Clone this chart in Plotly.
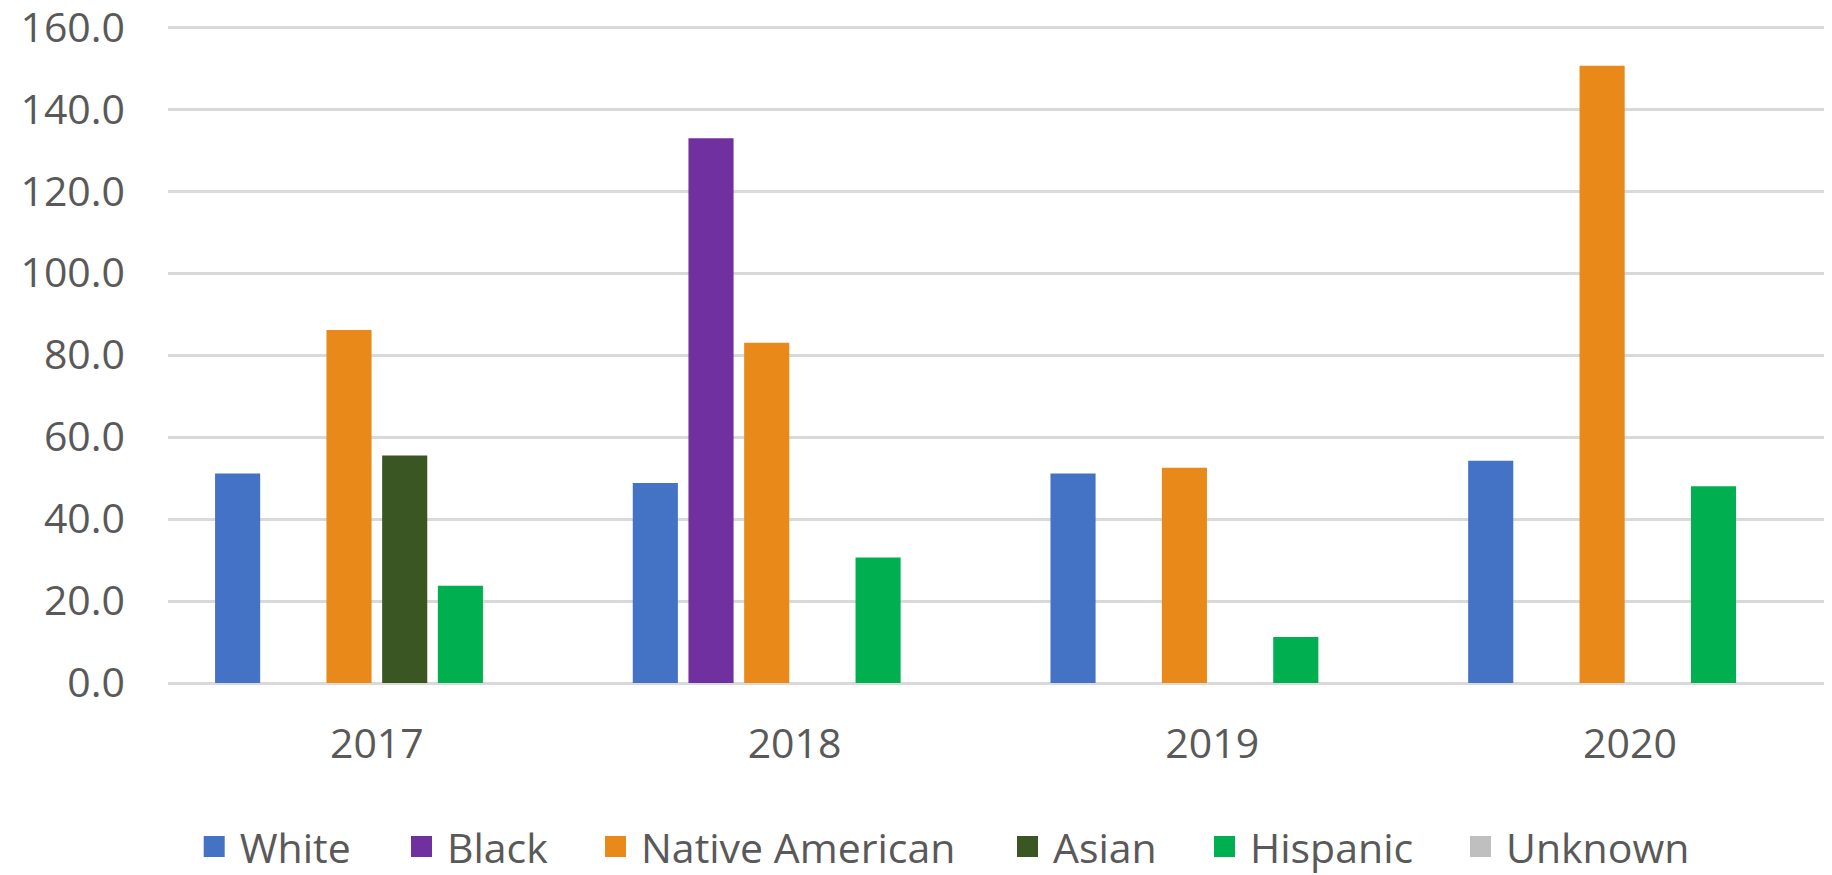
import plotly.graph_objects as go

years = ["2017", "2018", "2019", "2020"]
series_names = ["White", "Black", "Native American", "Asian", "Hispanic", "Unknown"]
white = [51.1, 48.8, 51.1, 54.2]
black = [None, 132.9, None, None]
native_american = [86.1, 83.0, 52.5, 150.6]
asian = [55.5, None, None, None]
hispanic = [23.7, 30.6, 11.2, 48.0]
unknown = [None, None, None, None]
y_ticks = [0, 20, 40, 60, 80, 100, 120, 140, 160]

values = [white, black, native_american, asian, hispanic, unknown]
colors = ["#4472C4", "#7030A0", "#E8891A", "#3A5623", "#00B050", "#BFBFBF"]

FONT = "Open Sans, Segoe UI, sans-serif"
TXT = "#595959"
FS = 41

# The page body has an 8px margin, so the figure is sized to fit the window
# and every position below is expressed in figure coordinates.
W, H = 1824, 867
Y_MAX = 160.3
PX_PER_UNIT = 4.1
L, R, B = 160, 0, 192
plot_h = Y_MAX * PX_PER_UNIT
T = H - B - plot_h
plot_w = W - L - R

fig = go.Figure()
legend_ids = ["legend", "legend2", "legend3", "legend4", "legend5", "legend6"]
for name, vals, col in zip(series_names, values, colors):
    fig.add_trace(go.Bar(
        x=years, y=vals, name=name, marker=dict(color=col, line=dict(width=0)),
        legendgroup=name, showlegend=False,
    ))
# legend entries (square swatches)
for name, col, lid in zip(series_names, colors, legend_ids):
    fig.add_trace(go.Scatter(
        x=[None], y=[None], mode="markers", name=name, legendgroup=name,
        marker=dict(symbol="square", size=16, color=col, line=dict(color=col, width=5)),
        legend=lid, showlegend=True, hoverinfo="skip",
    ))

# legend symbol centers (figure px) -> paper
box_centers = [206.2, 413.5, 607.5, 1019.5, 1216.5, 1472.5]
leg_y_px = 839
legends = {}
for lid, cx in zip(legend_ids, box_centers):
    legends[lid] = dict(
        x=(cx - 25.5 - L) / plot_w, xanchor="left",
        y=(T + plot_h - leg_y_px) / plot_h, yanchor="middle",
        orientation="h", itemwidth=41,
        font=dict(family=FONT, size=FS, color=TXT),
        bgcolor="rgba(0,0,0,0)", borderwidth=0,
    )

fig.update_layout(
    width=W, height=H,
    margin=dict(l=L, r=R, t=T, b=B, pad=0, autoexpand=False),
    paper_bgcolor="white", plot_bgcolor="white",
    barmode="group", bargap=0.2, bargroupgap=0.19,
    font=dict(family=FONT, size=FS, color=TXT),
    showlegend=True,
    **legends,
)
fig.update_xaxes(
    type="category", range=[-0.5, 3.4837], automargin=False,
    showgrid=False, showline=False, zeroline=False, ticks="",
    tickfont=dict(family=FONT, size=FS, color=TXT),
    ticklabelstandoff=33,
)
fig.update_yaxes(
    range=[0, Y_MAX], tickvals=y_ticks, tickformat=".1f", automargin=False,
    showgrid=True, gridcolor="#D9D9D9", gridwidth=3,
    zeroline=True, zerolinecolor="#D9D9D9", zerolinewidth=3,
    showline=False, ticks="", ticklabeloverflow="allow",
    tickfont=dict(family=FONT, size=FS, color=TXT),
    ticklabelstandoff=42,
)

fig.write_html("out.html")
